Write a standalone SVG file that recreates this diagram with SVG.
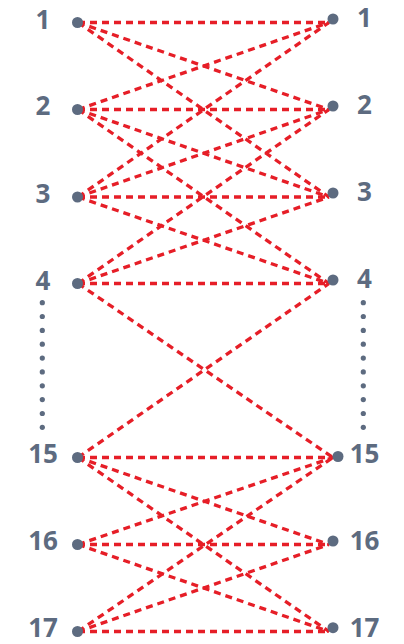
<svg xmlns="http://www.w3.org/2000/svg" width="404" height="644" viewBox="0 0 404 644">
<style>
.e{stroke:#e61e27;stroke-width:3.3;stroke-dasharray:7 5;fill:none}
.n{fill:#5d6b80}
.l{font-family:"Open Sans","DejaVu Sans",sans-serif;font-weight:700;font-size:26px;fill:#5d6b80;text-anchor:middle}
.d{fill:#5d6b80}
</style>
<rect width="404" height="644" fill="#ffffff"/>
<g id="connectors">
<line class="e" x1="78" y1="22.5" x2="329" y2="22.5"/>
<line class="e" x1="78" y1="22.5" x2="329" y2="109.5"/>
<line class="e" x1="78" y1="22.5" x2="329" y2="197"/>
<line class="e" x1="78" y1="109.5" x2="329" y2="22.5"/>
<line class="e" x1="78" y1="109.5" x2="329" y2="109.5"/>
<line class="e" x1="78" y1="109.5" x2="329" y2="197"/>
<line class="e" x1="78" y1="109.5" x2="329" y2="283.5"/>
<line class="e" x1="78" y1="197" x2="329" y2="22.5"/>
<line class="e" x1="78" y1="197" x2="329" y2="109.5"/>
<line class="e" x1="78" y1="197" x2="329" y2="197"/>
<line class="e" x1="78" y1="197" x2="329" y2="283.5"/>
<line class="e" x1="78" y1="283.5" x2="329" y2="109.5"/>
<line class="e" x1="78" y1="283.5" x2="329" y2="197"/>
<line class="e" x1="78" y1="283.5" x2="329" y2="283.5"/>
<line class="e" x1="78" y1="283.5" x2="333" y2="457.5"/>
<line class="e" x1="78" y1="457.5" x2="329" y2="283.5"/>
<line class="e" x1="78" y1="457.5" x2="333" y2="457.5"/>
<line class="e" x1="78" y1="457.5" x2="329" y2="544.5"/>
<line class="e" x1="78" y1="457.5" x2="329" y2="631.5"/>
<line class="e" x1="78" y1="544.5" x2="333" y2="457.5"/>
<line class="e" x1="78" y1="544.5" x2="329" y2="544.5"/>
<line class="e" x1="78" y1="544.5" x2="329" y2="631.5"/>
<line class="e" x1="78" y1="631.5" x2="333" y2="457.5"/>
<line class="e" x1="78" y1="631.5" x2="329" y2="544.5"/>
<line class="e" x1="78" y1="631.5" x2="329" y2="631.5"/>
</g>
<g id="L1"><circle class="n" cx="77.5" cy="22.5" r="5.5"/><text class="l" x="43" y="28.5">1</text></g>
<g id="L2"><circle class="n" cx="77.5" cy="109.5" r="5.5"/><text class="l" x="43" y="115">2</text></g>
<g id="L3"><circle class="n" cx="77.5" cy="197" r="5.5"/><text class="l" x="43" y="202.5">3</text></g>
<g id="L4"><circle class="n" cx="77.5" cy="283.5" r="5.5"/><text class="l" x="43" y="290">4</text></g>
<g id="L15"><circle class="n" cx="77.5" cy="457.5" r="5.5"/><text class="l" x="43" y="463">15</text></g>
<g id="L16"><circle class="n" cx="77.5" cy="544.5" r="5.5"/><text class="l" x="43" y="549.5">16</text></g>
<g id="L17"><circle class="n" cx="77.5" cy="631.5" r="5.5"/><text class="l" x="43" y="636.5">17</text></g>
<g id="R1"><circle class="n" cx="333" cy="19" r="5.5"/><text class="l" x="364.5" y="27">1</text></g>
<g id="R2"><circle class="n" cx="333" cy="106" r="5.5"/><text class="l" x="364.5" y="114">2</text></g>
<g id="R3"><circle class="n" cx="333" cy="193" r="5.5"/><text class="l" x="364.5" y="201">3</text></g>
<g id="R4"><circle class="n" cx="333" cy="280" r="5.5"/><text class="l" x="364.5" y="288">4</text></g>
<g id="R15"><circle class="n" cx="338" cy="456.5" r="5.5"/><text class="l" x="364.5" y="463">15</text></g>
<g id="R16"><circle class="n" cx="333" cy="541" r="5.5"/><text class="l" x="364.5" y="549.5">16</text></g>
<g id="R17"><circle class="n" cx="333" cy="627.7" r="5.5"/><text class="l" x="364.5" y="636.5">17</text></g>
<g id="left-ellipsis">
<circle class="d" cx="42.3" cy="302.7" r="2.6"/><circle class="d" cx="42.3" cy="316.5" r="2.6"/><circle class="d" cx="42.3" cy="330.4" r="2.6"/><circle class="d" cx="42.3" cy="344.2" r="2.6"/><circle class="d" cx="42.3" cy="358.1" r="2.6"/><circle class="d" cx="42.3" cy="371.9" r="2.6"/><circle class="d" cx="42.3" cy="385.8" r="2.6"/><circle class="d" cx="42.3" cy="399.6" r="2.6"/><circle class="d" cx="42.3" cy="413.5" r="2.6"/><circle class="d" cx="42.3" cy="427.3" r="2.6"/>
</g>
<g id="right-ellipsis">
<circle class="d" cx="363.3" cy="302.7" r="2.6"/><circle class="d" cx="363.3" cy="316.5" r="2.6"/><circle class="d" cx="363.3" cy="330.4" r="2.6"/><circle class="d" cx="363.3" cy="344.2" r="2.6"/><circle class="d" cx="363.3" cy="358.1" r="2.6"/><circle class="d" cx="363.3" cy="371.9" r="2.6"/><circle class="d" cx="363.3" cy="385.8" r="2.6"/><circle class="d" cx="363.3" cy="399.6" r="2.6"/><circle class="d" cx="363.3" cy="413.5" r="2.6"/><circle class="d" cx="363.3" cy="427.3" r="2.6"/>
</g>
</svg>
